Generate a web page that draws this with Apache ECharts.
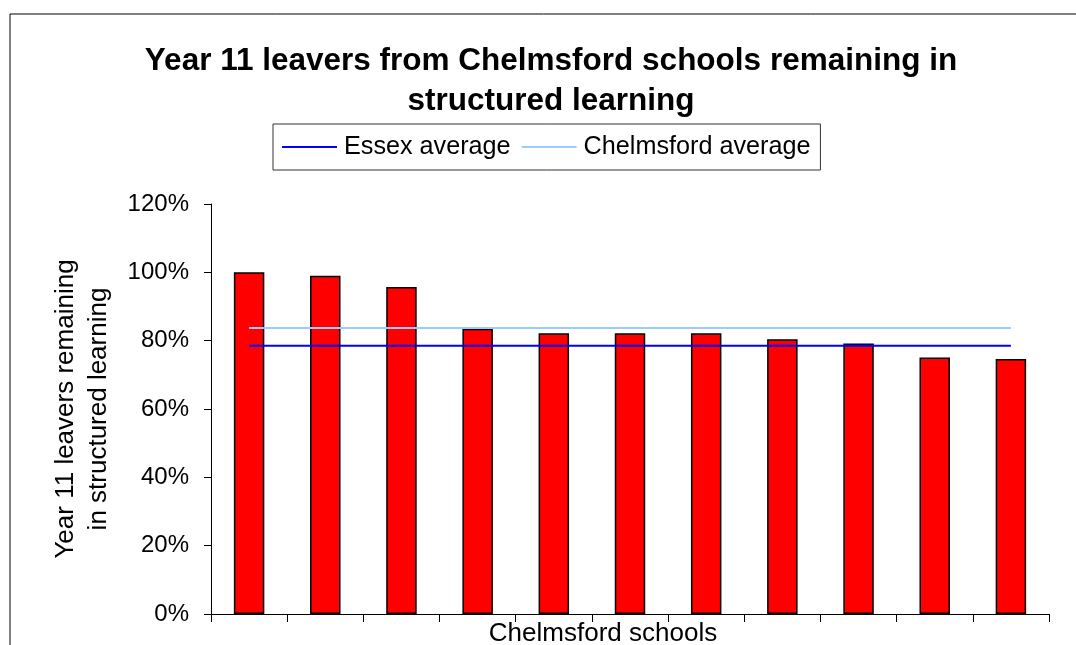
<!DOCTYPE html>
<html>
<head>
<meta charset="utf-8">
<title>Year 11 leavers from Chelmsford schools</title>
<script src="https://cdn.jsdelivr.net/npm/echarts@6/dist/echarts.min.js"></script>
<style>
  html, body { margin: 0; padding: 0; background: #fff; overflow: hidden; }
  #chart { width: 1076px; height: 645px; }
</style>
</head>
<body>
<div id="chart"></div>
<script>
// Schools (unnamed on the axis) and the share of their Year 11 leavers
// still in structured learning, in percent.
var schools = ['School 1', 'School 2', 'School 3', 'School 4', 'School 5', 'School 6',
               'School 7', 'School 8', 'School 9', 'School 10', 'School 11'];
var remainingPct = [100, 99, 95.7, 83.5, 82.2, 82.2, 82.2, 80.4, 79.2, 75.1, 74.6];

// Reference averages (percent)
var essexAverage = 78.5;
var chelmsfordAverage = 83.7;

// Value axis ticks
var yTicks = [0, 20, 40, 60, 80, 100, 120];

var FONT = '"Liberation Sans", Arial, sans-serif';

var chart = echarts.init(document.getElementById('chart'), null, { renderer: 'canvas' });

chart.setOption({
  animation: false,
  backgroundColor: '#ffffff',
  textStyle: { fontFamily: FONT, color: '#000' },
  graphic: [{
    type: 'rect',
    silent: true,
    shape: { x: 10, y: 14, width: 1200, height: 800 },
    style: { fill: 'none', stroke: '#000', lineWidth: 1 }
  }],
  title: {
    text: 'Year 11 leavers from Chelmsford schools remaining in\nstructured learning',
    left: 546,
    top: 36,
    textAlign: 'center',
    textStyle: {
      fontFamily: FONT,
      fontSize: 31.5,
      fontWeight: 'bold',
      color: '#000',
      lineHeight: 40
    }
  },
  legend: {
    left: 273,
    top: 124,
    padding: [10, 10, 10, 9],
    borderColor: '#333',
    borderWidth: 1,
    icon: 'rect',
    itemWidth: 55,
    itemHeight: 2,
    itemGap: 11,
    data: ['Essex average', 'Chelmsford average'],
    textStyle: { fontFamily: FONT, fontSize: 25.2, color: '#000', padding: [0, 0, 0, 2], lineHeight: 26 }
  },
  grid: { left: 211, right: 27, top: 204, height: 410, outerBoundsMode: 'none', containLabel: false },
  xAxis: {
    type: 'category',
    data: schools,
    boundaryGap: true,
    name: 'Chelmsford schools',
    nameLocation: 'middle',
    nameGap: 7,
    nameTextStyle: {
      fontFamily: FONT, fontSize: 26, color: '#000',
      verticalAlign: 'top', padding: [0, 54, 0, 0]
    },
    axisLine: { lineStyle: { color: '#000', width: 1 } },
    axisTick: { show: true, length: 8, lineStyle: { color: '#000' } },
    axisLabel: { show: false },
    splitLine: { show: false }
  },
  yAxis: {
    type: 'value',
    min: yTicks[0],
    max: yTicks[yTicks.length - 1],
    interval: yTicks[1] - yTicks[0],
    name: 'Year 11 leavers remaining\nin structured learning',
    nameLocation: 'middle',
    nameGap: 96,
    nameTextStyle: { fontFamily: FONT, fontSize: 26, color: '#000', lineHeight: 33 },
    axisLine: { show: true, lineStyle: { color: '#000', width: 1 } },
    axisTick: { show: true, length: 7, lineStyle: { color: '#000' } },
    axisLabel: {
      margin: 22,
      fontFamily: FONT,
      fontSize: 24,
      color: '#000',
      formatter: '{value}%'
    },
    splitLine: { show: false }
  },
  series: [
    {
      name: 'Remaining in structured learning',
      type: 'bar',
      data: remainingPct,
      barWidth: '40%',
      itemStyle: { color: '#ff0000', borderColor: '#000', borderWidth: 1.5 },
      z: 2
    },
    {
      name: 'Essex average',
      type: 'line',
      data: schools.map(function () { return essexAverage; }),
      symbol: 'none',
      lineStyle: { color: '#0000ff', width: 2 },
      itemStyle: { color: '#0000ff' },
      z: 4
    },
    {
      name: 'Chelmsford average',
      type: 'line',
      data: schools.map(function () { return chelmsfordAverage; }),
      symbol: 'none',
      lineStyle: { color: '#99ccff', width: 2 },
      itemStyle: { color: '#99ccff' },
      z: 3
    }
  ]
});
</script>
</body>
</html>
